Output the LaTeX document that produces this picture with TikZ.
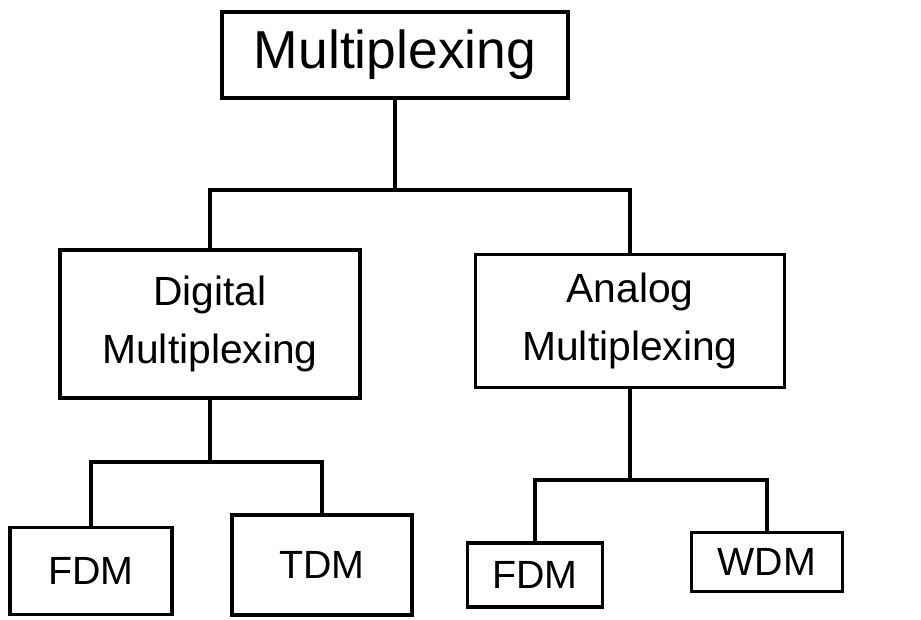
\documentclass[tikz,border=0pt]{standalone}
\usepackage{fontspec}
\setmainfont{Liberation Sans}
\usetikzlibrary{positioning}
\tikzset{
  box/.style={draw, line width=2.6pt, inner sep=0pt, align=center},
  link/.style={line width=2.6pt},
  bigtxt/.style={font=\fontsize{38}{42}\selectfont},
  midtxt/.style={font=\fontsize{29}{41}\selectfont},
  lowtxt/.style={font=\fontsize{28}{32}\selectfont},
}
\begin{document}
\begin{tikzpicture}[x=0.025cm, y=-0.025cm]
  \useasboundingbox (0,0) rectangle (921,619);
  % top level
  \node[box, bigtxt, minimum width=8.65cm, minimum height=2.15cm] (mux) at (395,55) {Multiplexing};
  % second level
  \node[box, midtxt, minimum width=7.5cm, minimum height=3.7cm] (dig) at (210,324) {Digital\\Multiplexing};
  \node[box, midtxt, minimum width=7.725cm, minimum height=3.325cm] (ana) at (630,321) {Analog\\Multiplexing};
  % leaves
  \node[box, lowtxt, minimum width=4.05cm, minimum height=2.175cm] (fdmA) at (91,571) {FDM};
  \node[box, lowtxt, minimum width=4.5cm, minimum height=2.5cm] (tdm) at (322,565) {TDM};
  \node[box, lowtxt, minimum width=3.375cm, minimum height=1.6cm] (fdmB) at (535,575) {FDM};
  \node[box, lowtxt, minimum width=3.775cm, minimum height=1.475cm] (wdm) at (767,562) {WDM};
  % buses
  \coordinate (bus1) at (0,190);
  \coordinate (bus2) at (0,462);
  \coordinate (bus3) at (0,480);
  \draw[link] (mux.south) -- (mux.south |- bus1);
  \draw[link] (dig.north) -- (dig.north |- bus1) -- (ana.north |- bus1) -- (ana.north);
  \draw[link] (dig.south) -- (dig.south |- bus2);
  \draw[link] (fdmA.north) -- (fdmA.north |- bus2) -- (tdm.north |- bus2) -- (tdm.north);
  \draw[link] (ana.south) -- (ana.south |- bus3);
  \draw[link] (fdmB.north) -- (fdmB.north |- bus3) -- (wdm.north |- bus3) -- (wdm.north);
\end{tikzpicture}
\end{document}
